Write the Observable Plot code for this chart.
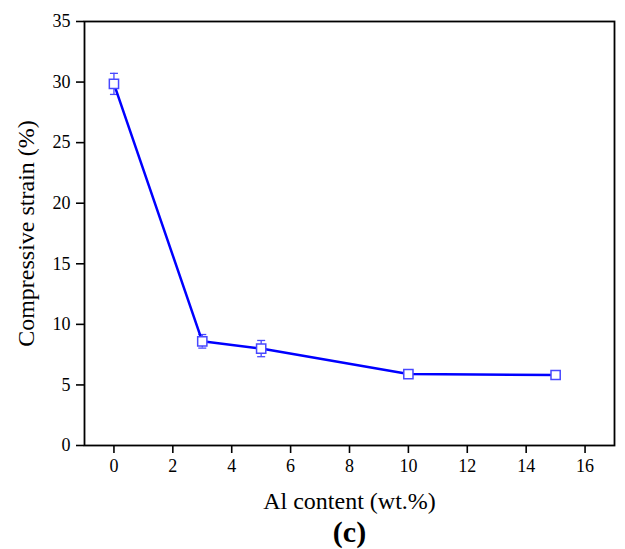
<!DOCTYPE html>
<html>
<head>
<meta charset="utf-8">
<script src="https://cdn.jsdelivr.net/npm/d3@7"></script>
<script src="https://cdn.jsdelivr.net/npm/@observablehq/plot@0.6"></script>
<style>
  html, body { margin: 0; padding: 0; background: #fff; }
  svg, svg text { font-family: "Liberation Serif", "Times New Roman", Times, serif !important; }
</style>
</head>
<body>
<div id="chart"></div>
<script>
const alContent = [0, 3, 5, 10, 15];
const strain = [29.85, 8.6, 8.0, 5.9, 5.82];
const strainErr = [0.87, 0.56, 0.67, 0.25, 0.2];
const xTicks = [0, 2, 4, 6, 8, 10, 12, 14, 16];
const yTicks = [0, 5, 10, 15, 20, 25, 30, 35];
const xLabel = "Al content (wt.%)";
const yLabel = "Compressive strain (%)";
const panelLabel = "(c)";

const data = alContent.map((x, i) => ({x, y: strain[i], lo: strain[i] - strainErr[i], hi: strain[i] + strainErr[i]}));

const capSymbol = {
  draw(context, size) {
    const w = Math.sqrt(size / Math.PI);
    context.moveTo(-w, 0);
    context.lineTo(w, 0);
  }
};

const serif = "Liberation Serif";
const lineColor = "#0000ff";
const markColor = "#4848ff";

const chart = Plot.plot({
  width: 625,
  height: 549,
  marginTop: 21,
  marginLeft: 84,
  marginRight: 11,
  marginBottom: 104,
  style: {fontFamily: serif, fontSize: "18px", background: "#fff", color: "#000"},
  x: {domain: [-1, 17]},
  y: {domain: [0, 35]},
  marks: [
    Plot.axisX({ticks: xTicks, tickSize: 8, tickPadding: 6, label: null, fontSize: 18, fontFamily: serif, strokeWidth: 1.6}),
    Plot.axisY({ticks: yTicks, tickSize: 8, tickPadding: 6, label: null, fontSize: 18, fontFamily: serif, strokeWidth: 1.6}),
    Plot.frame({stroke: "#000", strokeWidth: 1.8}),
    Plot.ruleX(data, {x: "x", y1: "lo", y2: "hi", stroke: markColor, strokeWidth: 1.3}),
    Plot.dot(data, {x: "x", y: "lo", symbol: capSymbol, r: 4, stroke: markColor, strokeWidth: 1.3}),
    Plot.dot(data, {x: "x", y: "hi", symbol: capSymbol, r: 4, stroke: markColor, strokeWidth: 1.3}),
    Plot.line(data, {x: "x", y: "y", stroke: lineColor, strokeWidth: 2.5}),
    Plot.dot(data, {x: "x", y: "y", symbol: "square", r: 5.2, stroke: markColor, fill: "#fff", strokeWidth: 1.5}),
    Plot.text([xLabel], {text: d => d, frameAnchor: "bottom", textAnchor: "middle", dy: 63, lineAnchor: "bottom", fontSize: 24, fontFamily: serif, fill: "#000"}),
    Plot.text([panelLabel], {text: d => d, frameAnchor: "bottom", textAnchor: "middle", dy: 96, lineAnchor: "bottom", fontSize: 30, fontWeight: "bold", fontFamily: serif, fill: "#000"}),
    Plot.text([yLabel], {text: d => d, frameAnchor: "left", textAnchor: "middle", dx: -51, rotate: -90, lineAnchor: "bottom", fontSize: 24, fontFamily: serif, fill: "#000"})
  ]
});
document.getElementById("chart").appendChild(chart);
</script>
</body>
</html>
